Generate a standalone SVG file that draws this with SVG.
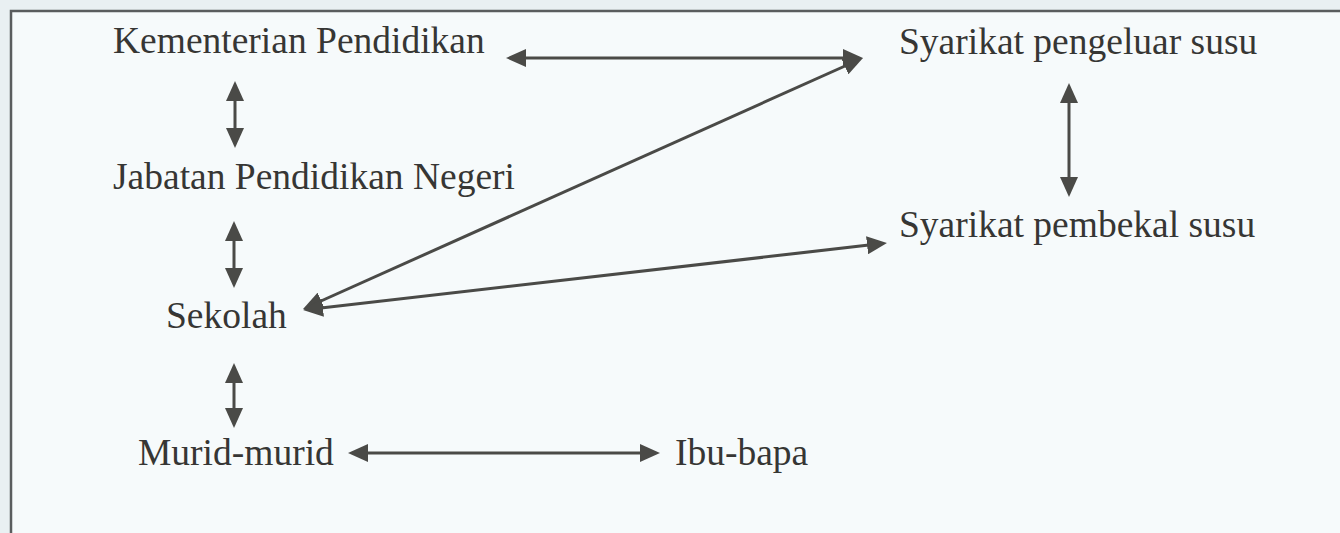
<svg xmlns="http://www.w3.org/2000/svg" width="1340" height="533" viewBox="0 0 1340 533">
  <defs>
    <style>
      .lbl { font-family: "Liberation Serif", "Times New Roman", serif; font-size: 37.5px; fill: #363634; }
      .con { stroke: #4a4a47; stroke-width: 3; fill: none; marker-start: url(#ah); marker-end: url(#ah); }
      .frame { stroke: #5a5d5e; stroke-width: 2.5; fill: none; }
    </style>
    <marker id="ah" viewBox="0 0 20 18" refX="15" refY="9" markerWidth="20" markerHeight="18" markerUnits="userSpaceOnUse" orient="auto-start-reverse">
      <path d="M0,0 L20,9 L0,18 z" fill="#4a4a47"/>
    </marker>
  </defs>
  <rect x="0" y="0" width="1340" height="533" fill="#e9f0f2"/>
  <rect x="11" y="11" width="1329" height="522" fill="#f6fafb"/>
  <path class="frame" d="M11,533 L11,11 L1340,11"/>

  <g id="connectors">
    <line class="con" x1="511" y1="58" x2="858" y2="58"/>
    <line class="con" x1="235" y1="86" x2="235" y2="143"/>
    <line class="con" x1="234" y1="226" x2="234" y2="283"/>
    <line class="con" x1="234" y1="368" x2="234" y2="423"/>
    <line class="con" x1="353" y1="453" x2="655" y2="453"/>
    <line class="con" x1="1069" y1="88" x2="1069" y2="192"/>
    <line class="con" x1="307.6" y1="307" x2="858.4" y2="60"/>
    <line class="con" x1="308" y1="309.4" x2="882" y2="243.6"/>
  </g>

  <g id="kementerian"><text class="lbl" x="113" y="53">Kementerian Pendidikan</text></g>
  <g id="jabatan"><text class="lbl" x="113" y="189">Jabatan Pendidikan Negeri</text></g>
  <g id="sekolah"><text class="lbl" x="166" y="328">Sekolah</text></g>
  <g id="murid"><text class="lbl" x="138" y="465">Murid-murid</text></g>
  <g id="ibubapa"><text class="lbl" x="675" y="465">Ibu-bapa</text></g>
  <g id="pengeluar"><text class="lbl" x="899" y="54">Syarikat pengeluar susu</text></g>
  <g id="pembekal"><text class="lbl" x="899" y="237">Syarikat pembekal susu</text></g>
</svg>
